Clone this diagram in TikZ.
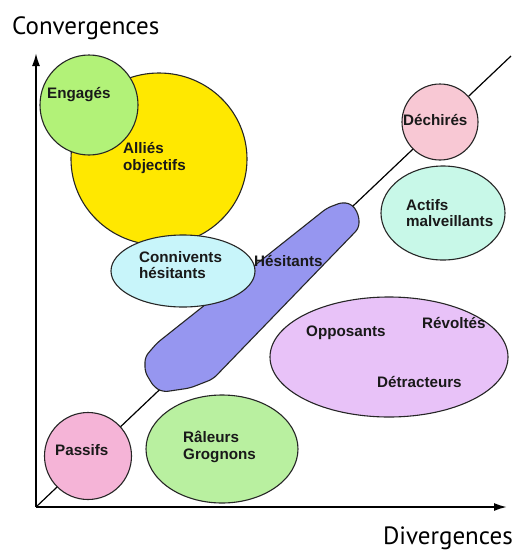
\documentclass[tikz,border=0pt]{standalone}
\usepackage{fontspec}
\setmainfont{Liberation Sans}
\newfontfamily\axisfont{PT Sans}
\usetikzlibrary{shapes.geometric,arrows.meta}
\definecolor{cYellow}{RGB}{255,232,0}
\definecolor{cEngages}{RGB}{178,242,120}
\definecolor{cConniv}{RGB}{200,245,250}
\definecolor{cHesit}{RGB}{150,150,240}
\definecolor{cDechires}{RGB}{248,200,212}
\definecolor{cActifs}{RGB}{200,248,232}
\definecolor{cOppos}{RGB}{232,194,248}
\definecolor{cPassifs}{RGB}{245,180,215}
\definecolor{cRaleurs}{RGB}{185,240,160}
\begin{document}
\begin{tikzpicture}[x=1pt,y=-1pt,
  blob/.style={draw=black!85, line width=1.1pt},
  oval/.style={blob, ellipse, inner sep=0pt},
  lbl/.style={font=\fontsize{15.2}{16.5}\selectfont\bfseries, align=left, inner sep=0pt, text=black!90},
  axislbl/.style={font=\axisfont\fontsize{25}{27}\selectfont, inner sep=0pt},
  axis/.style={line width=1.8pt, -{Latex[length=13pt,width=8pt]}}]
\useasboundingbox (0,0) rectangle (516,550);
\fill[white] (0,0) rectangle (516,550);
% axes and diagonal
\coordinate (O) at (36,507);
\coordinate (Ytip) at (36,53);
\coordinate (Xtip) at (507,507);
\coordinate (Dtop) at (511,56);
\draw[line width=1.2pt] (O) -- (Dtop);
\draw[axis] (O) -- (Ytip);
\draw[axis] (O) -- (Xtip);
% shapes
\node[oval, fill=cYellow, minimum width=176pt, minimum height=172pt] (allies) at (159,159) {};
\node[oval, fill=cEngages, minimum width=98pt, minimum height=100pt] (engages) at (89,105) {};
\draw[blob, fill=cHesit, rounded corners=5pt]
  (343,202) -- (353,205) -- (359,216) -- (359,228) -- (213,379) -- (190,388)
  -- (163,392) -- (154,387) -- (145,372) -- (145,357) -- (157,343) -- (327,208) -- cycle;
\node[oval, fill=cConniv, minimum width=144pt, minimum height=72pt] (conniv) at (183,271) {};
\node[oval, fill=cDechires, minimum width=76pt, minimum height=76pt] (dechires) at (440,122) {};
\node[oval, fill=cActifs, minimum width=124pt, minimum height=94pt] (actifs) at (443,213) {};
\node[oval, fill=cOppos, minimum width=238pt, minimum height=120pt] (oppos) at (389,357) {};
\node[oval, fill=cPassifs, minimum width=87pt, minimum height=87pt] (passifs) at (88,456) {};
\node[oval, fill=cRaleurs, minimum width=152pt, minimum height=108pt] (raleurs) at (222,449) {};
% texts
\node[axislbl, anchor=west] (conv) at (12,28) {Convergences};
\node[axislbl, anchor=east] (div) at (513,538) {Divergences};
\node[lbl, anchor=west] (tEng) at (47,95) {Engagés};
\node[lbl, anchor=west] (tAll) at (123,158) {Alliés\\objectifs};
\node[lbl, anchor=west] (tCon) at (139,265) {Connivents\\hésitants};
\node[lbl, anchor=west] (tHes) at (254,261) {Hésitants};
\node[lbl, anchor=west] (tDec) at (403,120) {Déchirés};
\node[lbl, anchor=west] (tAct) at (406,213) {Actifs\\malveillants};
\node[lbl, anchor=west] (tOpp) at (306,333) {Opposants};
\node[lbl, anchor=west] (tRev) at (422,323) {Révoltés};
\node[lbl, anchor=west] (tDet) at (377,382) {Détracteurs};
\node[lbl, anchor=west] (tPas) at (55,450) {Passifs};
\node[lbl, anchor=west] (tRal) at (183,447) {Râleurs\\Grognons};
\end{tikzpicture}
\end{document}
